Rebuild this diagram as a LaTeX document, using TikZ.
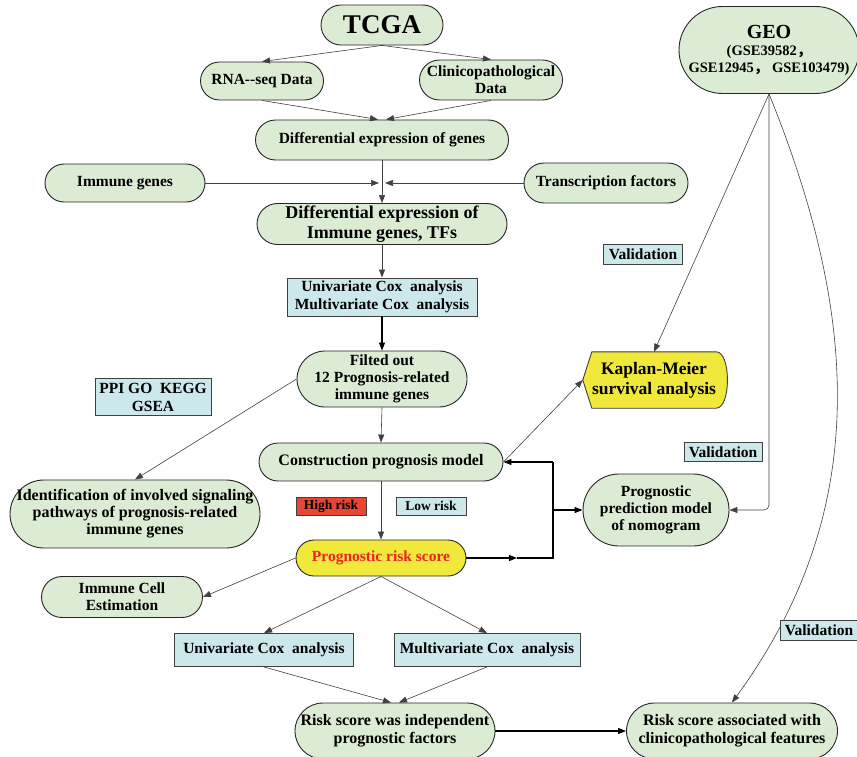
\documentclass[tikz,border=0pt]{standalone}
\usepackage{fontspec}
\setmainfont{Liberation Serif}
\newfontfamily\cjk{Noto Sans CJK SC}
\usetikzlibrary{positioning,arrows.meta,backgrounds}

\definecolor{nodegreen}{RGB}{220,235,212}
\definecolor{nodeblue}{RGB}{204,232,234}
\definecolor{nodeyellow}{RGB}{240,232,58}
\definecolor{nodered}{RGB}{232,70,50}
\definecolor{textred}{RGB}{236,36,40}

\begin{document}
\begin{tikzpicture}[x=1pt, y=-1pt,
    greennode/.style={rectangle, rounded corners=#1, minimum height=2*#1, draw=black!85, fill=nodegreen, line width=0.9pt, align=center, inner sep=1pt, font=\bfseries\fontsize{15.5}{17}\selectfont},
    greennode/.default=19pt,
    bluebox/.style={rectangle, draw=black!75, fill=nodeblue, line width=0.9pt, align=center, inner sep=1pt, font=\bfseries\fontsize{15.5}{18}\selectfont},
    link/.style={draw=black!75, line width=0.6pt, -{Triangle[length=8pt,width=6pt]}},
    boldlink/.style={link, draw=black, line width=1.1pt},
]
\useasboundingbox (0,0) rectangle (857,757);

% TCGA part
\node[greennode=20pt, minimum width=122pt, font=\bfseries\fontsize{27}{30}\selectfont] (tcga) at (382,25) {TCGA};
\node[greennode=19pt, minimum width=123pt] (rna) at (262,81) {RNA\mbox{-}\mbox{-}seq Data};
\node[greennode=20pt, minimum width=143pt] (clin) at (491,80) {Clinicopathological\\Data};
\node[greennode=20pt, minimum width=253pt] (diffgenes) at (382,140) {Differential expression of genes};
\node[greennode=19pt, minimum width=160pt] (immgenes) at (125,183) {Immune genes};
\node[greennode=20pt, minimum width=164pt] (tfs) at (606,183) {Transcription factors};
\coordinate (meet) at (382,183);
\node[greennode=20.5pt, minimum width=250pt, font=\bfseries\fontsize{18}{20}\selectfont] (diffimm) at (382,224) {Differential expression of\\Immune genes, TFs};
\node[bluebox, minimum width=190pt, minimum height=38pt] (coxboth) at (382,297) {Univariate Cox~ analysis\\Multivariate Cox~ analysis};
\node[greennode=28pt, minimum width=170pt] (filted) at (382,379) {Filted out\\12 Prognosis-related\\immune genes};
\node[bluebox, minimum width=116pt, minimum height=37pt] (ppi) at (153,397) {PPI GO~ KEGG\\GSEA};
\node[greennode=19pt, minimum width=244pt, font=\bfseries\fontsize{16}{18}\selectfont] (construct) at (381,462) {Construction prognosis model};
\node[greennode=34pt, minimum width=250pt, font=\bfseries\fontsize{16}{17}\selectfont] (ident) at (135,514) {Identification of involved signaling\\pathways of prognosis-related\\immune genes};
\node[bluebox, fill=nodered, minimum width=70pt, minimum height=18pt, font=\bfseries\fontsize{13.5}{15}\selectfont] (high) at (331,506) {High risk};
\node[bluebox, minimum width=70pt, minimum height=18pt, font=\bfseries\fontsize{13.5}{15}\selectfont] (low) at (431,506) {Low risk};
\node[greennode=18pt, fill=nodeyellow, text=textred, minimum width=170pt] (riskscore) at (381,558) {Prognostic risk score};
\node[greennode=20.5pt, minimum width=161pt] (cellest) at (122,597) {Immune Cell\\Estimation};
\node[bluebox, minimum width=179pt, minimum height=33pt] (unicox) at (264,650) {Univariate Cox~ analysis};
\node[bluebox, minimum width=186pt, minimum height=33pt] (multicox) at (487,650) {Multivariate Cox~ analysis};
\node[greennode=28pt, minimum width=200pt, font=\bfseries\fontsize{16}{18}\selectfont] (indep) at (395,731) {Risk score was independent\\prognostic factors};
\node[greennode=28pt, minimum width=211pt, font=\bfseries\fontsize{16}{18}\selectfont] (assoc) at (732,731) {Risk score associated with\\clinicopathological features};

% GEO part
\node[greennode=43.5pt, minimum width=180pt, font=\bfseries\fontsize{14.5}{17}\selectfont] (geo) at (769,50) {{\fontsize{20}{22}\selectfont GEO}\\(GSE39582{\cjk ，}\\GSE12945{\cjk ，} GSE103479)};
\node[rectangle, minimum width=124pt, minimum height=56pt, inner sep=0pt, align=center, font=\bfseries\fontsize{17.5}{20}\selectfont] (km) at (654,380) {Kaplan-Meier\\survival analysis};
\begin{scope}[on background layer]
\draw[fill=nodeyellow, draw=black!75, line width=0.9pt] (km.north west) -- (km.north east) .. controls ([xshift=15pt]km.north east) and ([xshift=15pt]km.south east) .. (km.south east) -- (km.south west) -- ([xshift=-9pt]km.west) -- cycle;
\end{scope}
\node[greennode=36pt, minimum width=146pt] (nomo) at (656,510) {Prognostic\\prediction model\\of nomogram};

% connectors
\draw[link] (tcga.south) -- (rna.north);
\draw[link] (tcga.south) -- (clin.north);
\draw[link] (rna.south) -- ([xshift=-4pt]diffgenes.north);
\draw[link] (clin.south) -- ([xshift=4pt]diffgenes.north);
\draw[link] (diffgenes.south) -- (diffimm.north);
\draw[link] (immgenes) -- ([xshift=-3pt]meet);
\draw[link] (tfs) -- ([xshift=3pt]meet);
\draw[link] (diffimm.south) -- (coxboth.north);
\draw[boldlink] (coxboth.south) -- (filted.north);
\draw[link] (filted.south) -- (construct.north);
\draw[link] (filted.west) -- (ident.north);
\draw[link] (construct.south) -- (riskscore.north);
\draw[link] (construct.east) -- ([xshift=-9pt]km.west);

\coordinate (midtip) at (517,558);
\coordinate (jtop) at (553,462);
\coordinate (jmid) at (553,510);
\coordinate (jbot) at (553,558);
\draw[boldlink] (riskscore.east) -- (midtip);
\draw[line width=1.1pt] (midtip) -- (jbot) -- (jtop);
\draw[boldlink] (jtop) -- (construct.east);
\draw[boldlink] (jmid) -- (nomo.west);

\draw[link] (geo.south) -- (km.north);
\draw[link, rounded corners=5pt] (geo.south) |- (nomo.east);
\draw[link] (geo.south) .. controls (865,330) and (865,520) .. (assoc.north);

\draw[link] (riskscore.west) -- (cellest.east);
\draw[link] (riskscore.south) -- (unicox.north);
\draw[link] (riskscore.south) -- (multicox.north);
\draw[link] (unicox.south) -- ([xshift=-4pt]indep.north);
\draw[link] (multicox.south) -- ([xshift=4pt]indep.north);
\draw[boldlink] (indep) -- (assoc);

% validation labels
\node[bluebox, minimum width=79pt, minimum height=20pt] (val1) at (643,254) {Validation};
\node[bluebox, minimum width=78pt, minimum height=19pt] (val2) at (723,452) {Validation};
\node[bluebox, minimum width=78pt, minimum height=20pt] (val3) at (819,630) {Validation};
\end{tikzpicture}
\end{document}
